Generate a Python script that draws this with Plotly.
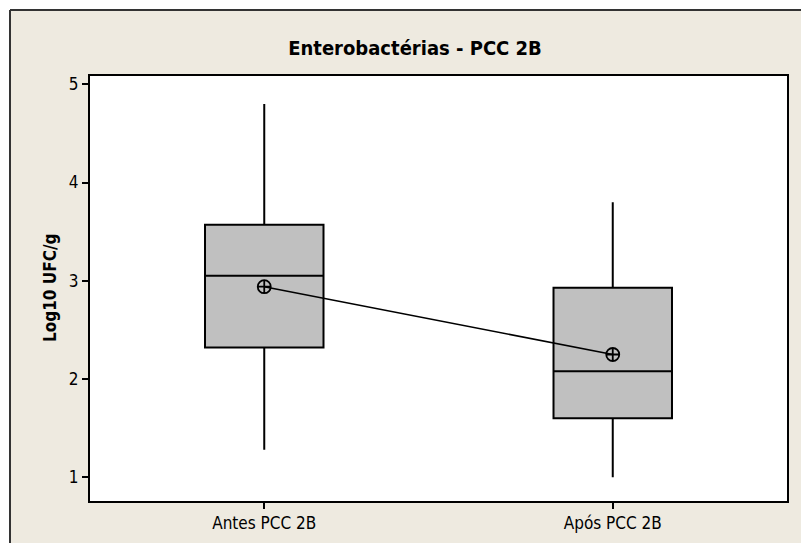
import plotly.graph_objects as go

categories = ["Antes PCC 2B", "Após PCC 2B"]
q1_vals = [2.32, 1.60]
median_vals = [3.05, 2.08]
q3_vals = [3.57, 2.93]
lower_whisker = [1.28, 1.00]
upper_whisker = [4.80, 3.80]
mean_vals = [2.94, 2.25]
y_ticks = [1, 2, 3, 4, 5]

TAN = "#EEEAE0"
FONT = "DejaVu Sans Condensed, DejaVu Sans, sans-serif"

fig = go.Figure()
fig.add_trace(go.Box(
    x=categories,
    q1=q1_vals,
    median=median_vals,
    q3=q3_vals,
    lowerfence=lower_whisker,
    upperfence=upper_whisker,
    fillcolor="#C0C0C0",
    line=dict(color="black", width=2),
    whiskerwidth=0,
    width=0.34,
    boxpoints=False,
    showlegend=False,
    hoverinfo="skip",
))
fig.add_trace(go.Scatter(
    x=categories,
    y=mean_vals,
    mode="lines+markers",
    line=dict(color="black", width=1.6),
    marker=dict(symbol="circle-cross-open", size=13, color="black",
                line=dict(width=1.8, color="black")),
    showlegend=False,
    hoverinfo="skip",
))

# figure geometry (page has an 8px body margin)
W, H = 809, 543
L, R, T, B = 82, 30, 68, 50
pw, ph = W - L - R, H - T - B
def px(x):
    return (x - L) / pw
def py(y):
    return (H - B - y) / ph

shapes = [
    dict(type="rect", xref="paper", yref="paper", x0=px(-5), x1=px(2), y0=py(H + 5), y1=py(-5),
         fillcolor="white", line=dict(width=0), layer="above"),
    dict(type="rect", xref="paper", yref="paper", x0=px(-5), x1=px(W + 5), y0=py(2), y1=py(-5),
         fillcolor="white", line=dict(width=0), layer="above"),
    dict(type="line", xref="paper", yref="paper", x0=px(2), x1=px(2), y0=py(H + 5), y1=py(2),
         line=dict(color="#333333", width=2), layer="above"),
    dict(type="line", xref="paper", yref="paper", x0=px(2), x1=px(W + 5), y0=py(2), y1=py(2),
         line=dict(color="#333333", width=2), layer="above"),
]

fig.update_layout(
    width=W, height=H,
    margin=dict(l=L, r=R, t=T, b=B),
    paper_bgcolor=TAN,
    plot_bgcolor="white",
    shapes=shapes,
    font=dict(family=FONT, color="black", size=16),
    title=dict(text="<b>Enterobactérias - PCC 2B</b>", x=407 / W, xanchor="center",
               y=1 - 40 / H, yanchor="middle", font=dict(size=20, family=FONT)),
    annotations=[dict(text="<b>Log10 UFC/g</b>", textangle=-90, xref="paper", yref="paper",
                      x=px(42), y=py(280), xanchor="center", yanchor="middle",
                      showarrow=False, font=dict(size=17, family=FONT))],
    xaxis=dict(
        type="category", range=[-0.5, 1.5],
        showline=True, linecolor="black", linewidth=2, mirror=True,
        ticks="outside", ticklen=6, tickwidth=1.5, tickcolor="black",
        showgrid=False, zeroline=False,
        tickfont=dict(size=17),
    ),
    yaxis=dict(
        range=[0.759, 5.084],
        tickvals=y_ticks,
        showline=True, linecolor="black", linewidth=2, mirror=True,
        ticks="outside", ticklen=6, tickwidth=1.5, tickcolor="black",
        showgrid=False, zeroline=False,
        tickfont=dict(size=17),
    ),
)

fig.write_html("out.html")
